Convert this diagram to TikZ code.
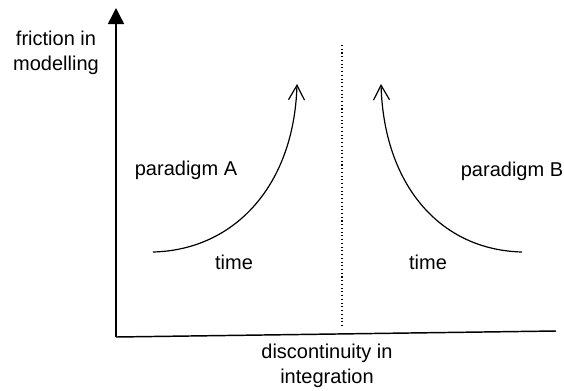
\documentclass[tikz,border=0pt]{standalone}
\usepackage{fontspec}
\setmainfont{Liberation Sans}
\usetikzlibrary{arrows.meta}

\begin{document}
\begin{tikzpicture}[x=0.75pt,y=-0.75pt,
  lbl/.style={font=\fontsize{15}{18.75}\selectfont,align=center,inner sep=0pt},
  axis/.style={line width=1.1pt},
  trend/.style={line width=0.9pt,-{Straight Barb[length=11pt,width=12pt,line width=0.9pt]}}]
\useasboundingbox (0,0) rectangle (564,390);
% axes
\coordinate (origin) at (116,337);
\coordinate (ytop) at (116,8);
\coordinate (xend) at (556,331);
\draw[axis,-{Triangle[length=12pt,width=12pt]}] (origin) -- (ytop);
\draw[axis] (origin) -- (xend);
\node[lbl] (ylab) at (56,53) {friction in\\modelling};
\node[lbl] (xlab) at (327,366) {discontinuity in\\integration};
% divider
\coordinate (dtop) at (342,45);
\coordinate (dbot) at (342,326);
\draw[dotted,line width=0.8pt] (dtop) -- (dbot);
% paradigm A
\coordinate (a0) at (153,252);
\coordinate (a1) at (297,84);
\draw[trend] (a0) .. controls (235,250) and (294,185) .. (a1);
\node[lbl] (parA) at (186,170) {paradigm A};
\node[lbl] (timeA) at (234,262) {time};
% paradigm B
\coordinate (b0) at (522,252);
\coordinate (b1) at (381,84);
\draw[trend] (b0) .. controls (440,250) and (384,185) .. (b1);
\node[lbl] (parB) at (512,171) {paradigm B};
\node[lbl] (timeB) at (428,262) {time};
\end{tikzpicture}
\end{document}
